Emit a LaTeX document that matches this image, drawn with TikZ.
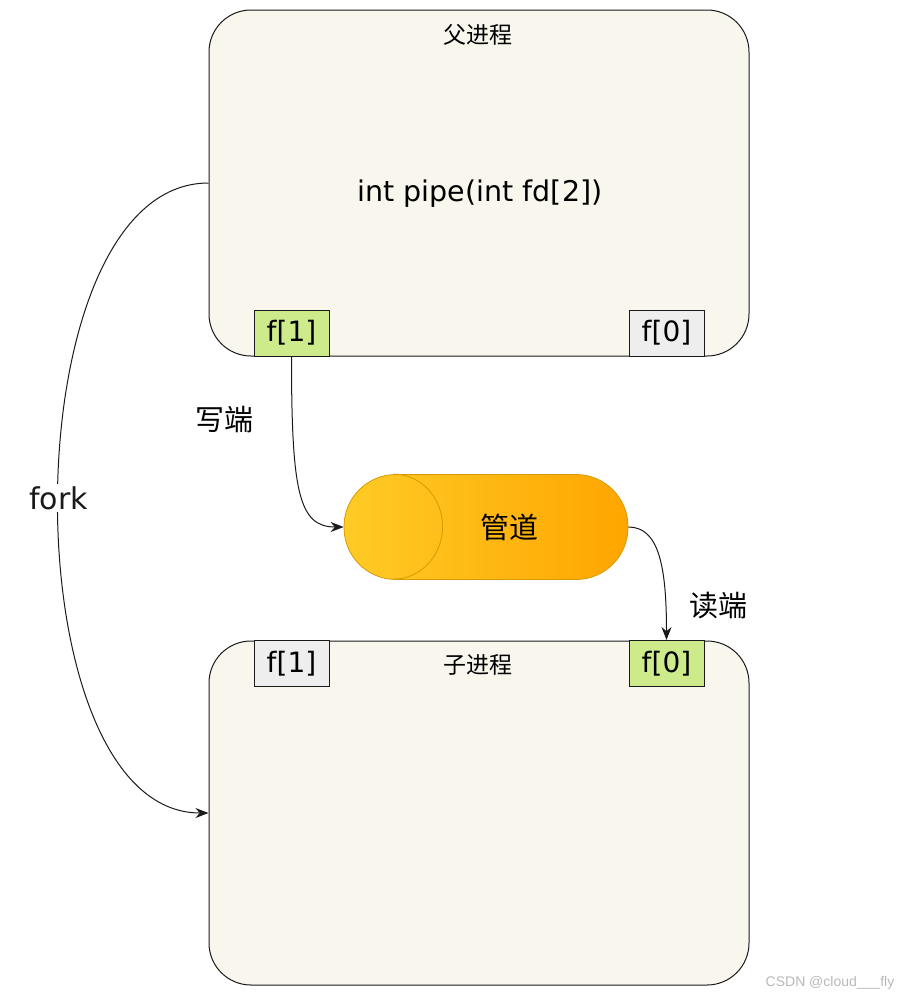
\documentclass[tikz,border=0pt]{standalone}
\usepackage{fontspec}
\setmainfont{Noto Sans CJK SC}
\newfontfamily\latinfont{DejaVu Sans}
\newfontfamily\wmfont{Liberation Sans}
\usepackage{tikz}
\usetikzlibrary{arrows.meta, positioning, calc}
\definecolor{pbg}{HTML}{F9F7ED}
\definecolor{fdgreen}{HTML}{CDEB8B}
\definecolor{fdgray}{HTML}{EEEEEE}
\definecolor{pipeL}{HTML}{FFCB26}
\definecolor{pipeR}{HTML}{FFA500}
\definecolor{pipeB}{HTML}{D79B00}
\definecolor{lnk}{HTML}{1A1A1A}
\tikzset{
  procbox/.style={draw=lnk, fill=pbg, rounded corners=42pt, line width=1pt,
                  minimum width=540pt, minimum height=346pt},
  fdbox/.style={draw=lnk, line width=1pt, minimum width=75pt, minimum height=46pt,
                inner sep=0pt, font=\latinfont\fontsize{28}{32}\selectfont},
  ptitle/.style={font=\fontsize{23}{27}\selectfont, inner sep=0pt},
  lbl/.style={font=\fontsize{29}{33}\selectfont, inner sep=0pt},
  arr/.style={-{Stealth[length=13pt, width=10pt]}, line width=1pt, lnk},
}
\begin{document}
\begin{tikzpicture}[x=1pt, y=-1pt]
  \useasboundingbox (0,0) rectangle (909,999);
  % parent process
  \node[procbox] (parent) at (479,183) {};
  \node[ptitle] (ptit) at (478,35) {父进程};
  \node[font=\latinfont\fontsize{28.5}{32}\selectfont, inner sep=0pt] (call) at (480,194) {int pipe(int fd[2])};
  \node[fdbox, fill=fdgreen] (pf1) at (291.5,333) {f[1]};
  \node[fdbox, fill=fdgray] (pf0) at (666.5,333) {f[0]};
  % child process
  \node[procbox, minimum height=344pt] (child) at (479,813) {};
  \node[ptitle] (ctit) at (478,665) {子进程};
  \node[fdbox, fill=fdgray] (cf1) at (291.5,663.5) {f[1]};
  \node[fdbox, fill=fdgreen] (cf0) at (666.5,663.5) {f[0]};
  % pipe
  \node[draw=pipeB, line width=0.8pt, left color=pipeL, right color=pipeR,
        rounded corners=52pt, minimum width=284pt, minimum height=105pt,
        lbl] (pipe) at (486,527) {\hspace*{46pt}管道};
  \draw[pipeB, line width=0.8pt] ([xshift=50pt]pipe.north west)
    arc[start angle=90, end angle=-90, x radius=49pt, y radius=52.5pt];
  % arrows
  \draw[arr] (pf1.south) .. controls +(0,135) and +(-45,0) .. (pipe.west);
  \draw[arr] (pipe.east) .. controls +(30,0) and +(0,-75) .. (cf0.north);
  \draw[arr] (parent.west) .. controls +(-200,0) and +(-200,0) .. (child.west)
    node[pos=0.5, fill=white, inner sep=2pt, font=\latinfont\fontsize{30}{34}\selectfont] (fork) {fork};
  \node[lbl] (wr) at (224,420) {写端};
  \node[lbl] (rd) at (718,606) {读端};
  \node[font=\wmfont\fontsize{14}{16}\selectfont, text=black!28, inner sep=0pt] (wm) at (830,983) {CSDN @cloud\_\_\_fly};
\end{tikzpicture}
\end{document}
